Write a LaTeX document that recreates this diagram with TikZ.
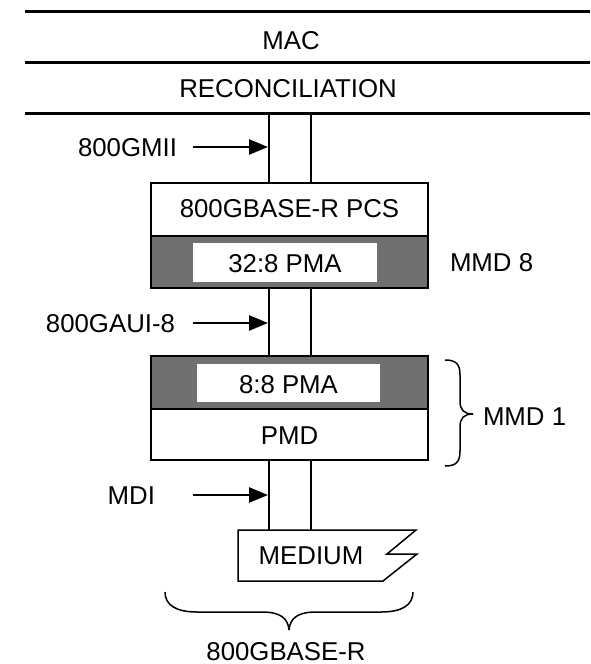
\documentclass[tikz,border=0pt]{standalone}
\usepackage{fontspec}
\setmainfont{Liberation Sans}
\usetikzlibrary{arrows.meta}
\begin{document}
\begin{tikzpicture}[x=1pt,y=-1pt,
  every node/.style={font=\fontsize{25.8}{30}\selectfont, inner sep=0pt, outer sep=0pt, text=black},
  layerline/.style={line width=3pt},
  boxline/.style={draw, line width=2.6pt, anchor=north west, minimum width=277pt},
  shadebox/.style={boxline, fill=black!56},
  inbox/.style={fill=white, anchor=north west},
  pipe/.style={line width=2.6pt},
  txt/.style={anchor=base},
  lblL/.style={anchor=base east},
  lblR/.style={anchor=base west},
  arr/.style={line width=2.6pt, -{Triangle[length=19pt,width=15pt]}, shorten >=1pt},
  bracel/.style={line width=1.5pt},
  medline/.style={line width=1.5pt, line join=miter}
]
\path[use as bounding box] (0,0) rectangle (590,664);

% layer lines
\coordinate (l1a) at (25,11);  \coordinate (l1b) at (590,11);
\coordinate (l2a) at (25,62);  \coordinate (l2b) at (590,62);
\coordinate (l3a) at (25,113); \coordinate (l3b) at (590,113);
\draw[layerline] (l1a) -- (l1b);
\draw[layerline] (l2a) -- (l2b);
\draw[layerline] (l3a) -- (l3b);
\node[txt] (mac) at (291,49) {MAC};
\node[txt] (rec) at (288,97) {RECONCILIATION};

% upper block
\node[boxline, minimum height=53pt] (pcs) at (151,183) {};
\node[txt] (pcst) at (289.5,217) {800GBASE-R PCS};
\node[shadebox, minimum height=52pt] (pma1) at (151,236) {};
\node[inbox, minimum width=184pt, minimum height=39pt] (pma1in) at (193,243) {};
\node[txt] (pma1t) at (285,272) {32:8 PMA};
\node[lblR] (mmd8) at (450,271) {MMD 8};

% lower block
\node[shadebox, minimum height=53pt] (pma2) at (151,356) {};
\node[inbox, minimum width=183pt, minimum height=38pt] (pma2in) at (197,364) {};
\node[txt] (pma2t) at (288.5,393) {8:8 PMA};
\node[boxline, minimum height=51pt] (pmd) at (151,409) {};
\node[txt] (pmdt) at (289.5,444) {PMD};

% pipes
\coordinate (pl1) at (269,113); \coordinate (pr1) at (311,113);
\draw[pipe] (pl1) -- (pl1 |- pcs.north);
\draw[pipe] (pr1) -- (pr1 |- pcs.north);
\draw[pipe] (pl1 |- pma1.south) -- (pl1 |- pma2.north);
\draw[pipe] (pr1 |- pma1.south) -- (pr1 |- pma2.north);
\coordinate (medtop) at (290,530);
\draw[pipe] (pl1 |- pmd.south) -- (pl1 |- medtop);
\draw[pipe] (pr1 |- pmd.south) -- (pr1 |- medtop);

% interface labels and arrows
\node[lblL] (gmii) at (177,156) {800GMII};
\coordinate (a1) at (193,147);
\draw[arr] (a1) -- (a1 -| pl1);
\node[lblL] (gaui) at (175,332) {800GAUI-8};
\coordinate (a2) at (193,323);
\draw[arr] (a2) -- (a2 -| pl1);
\node[lblL] (mdi) at (155,504) {MDI};
\coordinate (a3) at (193,495);
\draw[arr] (a3) -- (a3 -| pl1);

% medium
\draw[medline] (238,530) -- (416,530) -- (387,554) -- (417,554) -- (383,581) -- (238,581) -- cycle;
\node[txt] (med) at (311,564) {MEDIUM};

% right brace MMD 1
\draw[bracel] (445,360) .. controls (456,360) and (460,364) .. (460,375) -- (460,401)
  .. controls (460,410) and (464,414) .. (473,414);
\draw[bracel] (445,466) .. controls (456,466) and (460,462) .. (460,451) -- (460,427)
  .. controls (460,418) and (464,414) .. (473,414);
\node[lblR] (mmd1) at (483,425) {MMD 1};

% bottom brace
\draw[bracel] (165,592) .. controls (165,605) and (176,612) .. (197,612) -- (262,612)
  .. controls (280,612) and (288,618) .. (289,630);
\draw[bracel] (413,592) .. controls (413,605) and (402,612) .. (381,612) -- (316,612)
  .. controls (298,612) and (290,618) .. (289,630);
\node[txt] (base) at (286,660) {800GBASE-R};
\end{tikzpicture}
\end{document}
